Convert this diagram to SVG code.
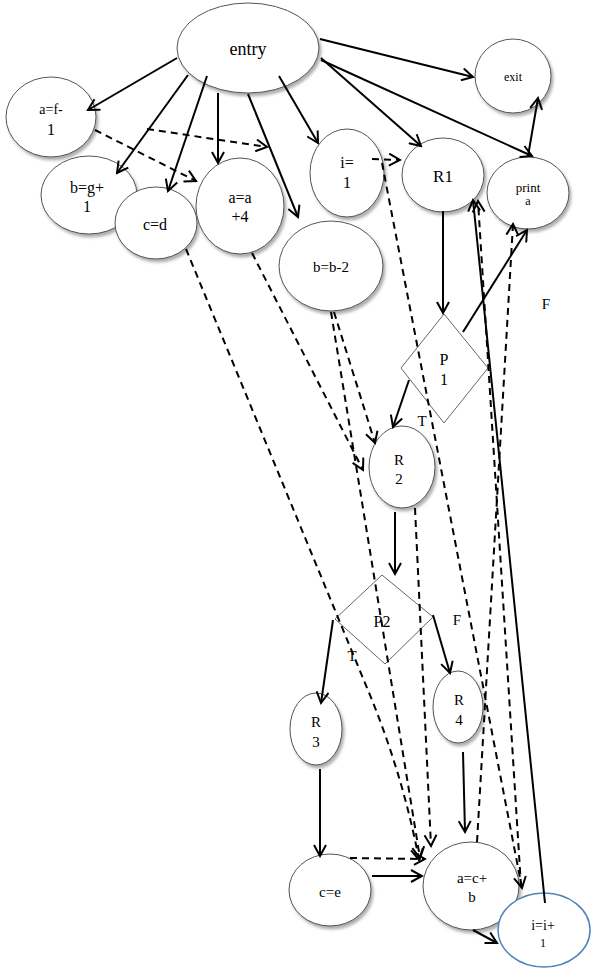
<svg xmlns="http://www.w3.org/2000/svg" width="607" height="979" viewBox="0 0 607 979">
<style>
.n{fill:#fff;stroke:#555;stroke-width:1;filter:url(#sh)}
.d{fill:#fff;stroke:#666;stroke-width:1}
.t{font-family:'Liberation Serif','DejaVu Serif',serif;fill:#000;text-anchor:middle}
.e{fill:none;stroke:#000;stroke-width:2;marker-end:url(#ah)}
.k{fill:none;stroke:#000;stroke-width:2;stroke-dasharray:7 5;marker-end:url(#ah)}
</style>
<defs>
<filter id="sh" x="-20%" y="-20%" width="150%" height="150%">
<feDropShadow dx="2" dy="3" stdDeviation="1.5" flood-color="#777" flood-opacity="0.6"/>
</filter>
<marker id="ah" markerUnits="userSpaceOnUse" markerWidth="14" markerHeight="14" refX="12" refY="7" orient="auto">
<path d="M1,1 L12,7 L1,13" fill="none" stroke="#000" stroke-width="2" stroke-dasharray="none"/>
</marker>
</defs>
<rect width="607" height="979" fill="#fff"/>
<g font-family="Liberation Serif, DejaVu Serif, serif">
<g id="entry"><ellipse class="n" cx="248" cy="48" rx="71" ry="45"/><text class="t" x="248" y="55" font-size="18">entry</text></g>
<g id="exit"><ellipse class="n" cx="513" cy="76" rx="38" ry="37"/><text class="t" x="513" y="81" font-size="12">exit</text></g>
<g id="n_afm1"><ellipse class="n" cx="51" cy="117" rx="45" ry="40"/><text class="t" x="51" y="114" font-size="14">a=f-</text><text class="t" x="51" y="135" font-size="16">1</text></g>
<g id="n_bgp1"><ellipse class="n" cx="89" cy="195" rx="48" ry="39"/><text class="t" x="87" y="193" font-size="16">b=g+</text><text class="t" x="87" y="212" font-size="16">1</text></g>
<g id="n_cd"><ellipse class="n" cx="156" cy="223" rx="41" ry="36"/><text class="t" x="155" y="230" font-size="16">c=d</text></g>
<g id="n_aa4"><ellipse class="n" cx="240" cy="206" rx="44" ry="48"/><text class="t" x="240" y="203" font-size="16">a=a</text><text class="t" x="240" y="222" font-size="16">+4</text></g>
<g id="n_bbm2"><ellipse class="n" cx="331" cy="266" rx="52" ry="45"/><text class="t" x="331" y="272" font-size="15">b=b-2</text></g>
<g id="n_i1"><ellipse class="n" cx="347" cy="173" rx="37" ry="44"/><text class="t" x="347" y="168" font-size="16">i=</text><text class="t" x="347" y="188" font-size="16">1</text></g>
<g id="R1"><ellipse class="n" cx="443" cy="175" rx="41" ry="37"/><text class="t" x="443" y="182" font-size="17">R1</text></g>
<g id="print"><ellipse class="n" cx="528" cy="193" rx="41" ry="36"/><text class="t" x="528" y="192" font-size="13">print</text><text class="t" x="528" y="205" font-size="12">a</text></g>
<g id="P1"><polygon class="d" points="444,314 488,368 444,423 401,368"/><text class="t" x="444" y="365" font-size="16">P</text><text class="t" x="444" y="385" font-size="16">1</text></g>
<g id="R2"><ellipse class="n" cx="402" cy="467" rx="33" ry="41"/><text class="t" x="399" y="465" font-size="15">R</text><text class="t" x="399" y="484" font-size="15">2</text></g>
<g id="P2"><polygon class="d" points="382,575 433,617 385,664 335,619"/><text class="t" x="382" y="627" font-size="16">P2</text></g>
<g id="R3"><ellipse class="n" cx="316" cy="729" rx="26" ry="36"/><text class="t" x="316" y="727" font-size="15">R</text><text class="t" x="316" y="747" font-size="15">3</text></g>
<g id="R4"><ellipse class="n" cx="458" cy="707" rx="25" ry="36"/><text class="t" x="459" y="705" font-size="15">R</text><text class="t" x="459" y="725" font-size="15">4</text></g>
<g id="n_ce"><ellipse class="n" cx="330" cy="890" rx="41" ry="36"/><text class="t" x="330" y="897" font-size="15">c=e</text></g>
<g id="n_acb"><ellipse class="n" cx="471" cy="886" rx="48" ry="44"/><text class="t" x="472" y="883" font-size="15">a=c+</text><text class="t" x="472" y="902" font-size="15">b</text></g>
<g id="n_ii1"><ellipse cx="544" cy="930" rx="46" ry="37" fill="#fff" stroke="#4f81bd" stroke-width="1.5"/><text class="t" x="543" y="930" font-size="14">i=i+</text><text class="t" x="543" y="947" font-size="12">1</text></g>
<g id="labels">
<text class="t" x="546" y="309" font-size="15">F</text>
<text class="t" x="422" y="426" font-size="15">T</text>
<text class="t" x="457" y="625" font-size="15">F</text>
<text class="t" x="352" y="661" font-size="15">T</text>
</g>
</g>
<g id="connectors">
<path class="e" d="M177,58 L88,110"/>
<path class="e" d="M188,75 L117,173"/>
<path class="e" d="M207,76 L168,191"/>
<path class="e" d="M218,93 L218,163"/>
<path class="e" d="M248,94 L298,217"/>
<path class="e" d="M279,76 L318,143"/>
<path class="e" d="M320,39 L473,77"/>
<path class="e" d="M321,58 L421,146"/>
<path class="e" d="M321,60 L532,156"/>
<path class="e" d="M528,156 L538,98"/>
<path class="e" d="M443,211 L443,313"/>
<path class="e" d="M463,332 L527,230"/>
<path class="e" d="M409,380 L393,427"/>
<path class="e" d="M395,512 L395,574"/>
<path class="e" d="M333,620 L321,703"/>
<path class="e" d="M433,615 L450,673"/>
<path class="e" d="M320,769 L320,856"/>
<path class="e" d="M463,752 L465,832"/>
<path class="e" d="M372,876 L422,876"/>
<path class="e" d="M473,930 L497,943"/>
<path class="e" d="M545,903 L473,200"/>
<path class="k" d="M95,130 L196,181"/>
<path class="k" d="M147,129 L267,147"/>
<path class="k" d="M372,159 L400,160"/>
<path class="k" d="M382,163 L522,888"/>
<path class="k" d="M521,886 L478,201"/>
<path class="k" d="M477,842 L513,224"/>
<path class="k" d="M252,253 L363,470"/>
<path class="k" d="M334,312 L375,443"/>
<path class="k" d="M331,312 L420,858"/>
<path class="k" d="M186,249 L372,700 Q404,780 419,860"/>
<path class="k" d="M415,508 L431,846"/>
<path class="k" d="M350,858 L425,859"/>
</g>
</svg>
